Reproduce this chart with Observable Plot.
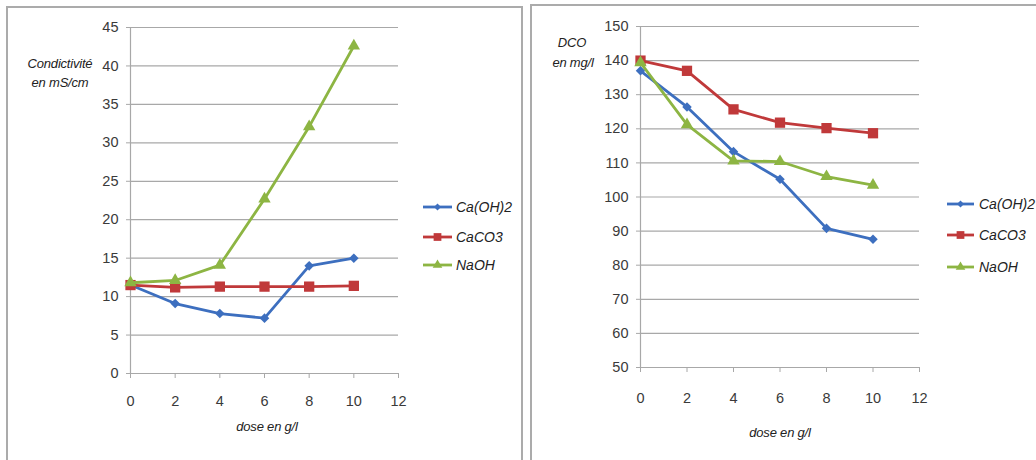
<!DOCTYPE html>
<html><head><meta charset="utf-8">
<script src="https://cdn.jsdelivr.net/npm/d3@7"></script>
<script src="https://cdn.jsdelivr.net/npm/@observablehq/plot@0.6"></script>
<style>
html,body{margin:0;padding:0;background:#fff}
body{width:1036px;height:460px;overflow:hidden;position:relative;font-family:"Liberation Sans",Arial,sans-serif}
.panel{position:absolute;border:2px solid #ababab;box-sizing:border-box}
.abs{position:absolute}
.t{position:absolute;transform:translate(-50%,-50%);font-style:italic;font-size:13px;color:#222;white-space:nowrap;line-height:1;letter-spacing:-0.2px}
.leg{position:absolute;font-style:italic;font-size:14px;color:#222;white-space:nowrap;line-height:1;transform:translateY(-50%)}
</style></head>
<body>
<div class="panel" style="left:6px;top:6px;width:517px;height:480px"></div>
<div class="panel" style="left:530px;top:4px;width:520px;height:480px"></div>
<div id="left" class="abs" style="left:0;top:0"></div>
<div id="right" class="abs" style="left:520px;top:0"></div>
<div class="t" style="left:60px;top:63px">Condictivité</div>
<div class="t" style="left:60px;top:82px">en mS/cm</div>
<div class="t" style="left:572px;top:42px">DCO</div>
<div class="t" style="left:573px;top:62px">en mg/l</div>
<div class="t" style="left:267px;top:426px">dose en g/l</div>
<div class="t" style="left:780px;top:432px">dose en g/l</div>
<div id="legends"></div>
<script>
const doses = [0, 2, 4, 6, 8, 10];
const seriesNames = ["Ca(OH)2", "CaCO3", "NaOH"];
const seriesColors = ["#3d6fbf", "#c0393a", "#8db543"];
const seriesSymbols = ["diamond2", "square", "triangle"];
const xTicks = [0, 2, 4, 6, 8, 10, 12];

const condCaOH2 = [11.5, 9.1, 7.8, 7.2, 14.0, 15.0];
const condCaCO3 = [11.5, 11.2, 11.3, 11.3, 11.3, 11.4];
const condNaOH = [11.8, 12.1, 14.1, 22.7, 32.1, 42.6];
const condTicks = [0, 5, 10, 15, 20, 25, 30, 35, 40, 45];

const dcoCaOH2 = [137, 126.4, 113.3, 105.2, 90.8, 87.6];
const dcoCaCO3 = [140, 137, 125.7, 121.8, 120.2, 118.7];
const dcoNaOH = [139.4, 121.2, 110.6, 110.4, 106, 103.5];
const dcoTicks = [50, 60, 70, 80, 90, 100, 110, 120, 130, 140, 150];

function table(arrs) {
  const rows = [];
  arrs.forEach((vals, i) => vals.forEach((v, j) => rows.push({dose: doses[j], value: v, series: seriesNames[i]})));
  return rows;
}

const symR = {"diamond2": 4.3, "square": 5.8, "triangle": 4.6};

function chart(data, yTicks, opts) {
  const marks = [
    Plot.gridY(yTicks, {stroke: "#a8a8a8", strokeOpacity: 1, strokeWidth: 1.2}),
    Plot.ruleX([0], {stroke: "#a8a8a8", strokeWidth: 1.2}),
    Plot.axisY(yTicks, {tickSize: 4, tickPadding: 8, stroke: "#a8a8a8", fill: "#3a3a3a", label: null}),
    Plot.axisX(xTicks, {tickSize: 5, tickPadding: opts.xPad, stroke: "#a8a8a8", fill: "#3a3a3a", label: null})
  ];
  seriesNames.forEach((s, i) => {
    const d = data.filter(r => r.series === s);
    marks.push(Plot.line(d, {x: "dose", y: "value", stroke: seriesColors[i], strokeWidth: 2.8}));
    marks.push(Plot.dot(d, {x: "dose", y: "value", symbol: seriesSymbols[i], fill: seriesColors[i], r: symR[seriesSymbols[i]]}));
  });
  return Plot.plot({
    width: opts.width, height: 460,
    marginLeft: opts.ml, marginRight: opts.mr, marginTop: opts.mt, marginBottom: opts.mb,
    x: {domain: [0, 12]},
    y: {domain: opts.ydomain},
    style: {fontFamily: "'Liberation Sans Narrow','Liberation Sans',Arial,sans-serif", fontSize: "14.5px", background: "transparent", overflow: "visible"},
    marks
  });
}

document.getElementById("left").append(chart(table([condCaOH2, condCaCO3, condNaOH]), condTicks,
  {width: 520, ml: 130, mr: 122, mt: 27, mb: 87, ydomain: [0, 45], xPad: 17}));
document.getElementById("right").append(chart(table([dcoCaOH2, dcoCaCO3, dcoNaOH]), dcoTicks,
  {width: 516, ml: 120, mr: 117, mt: 26, mb: 93, ydomain: [50, 150], xPad: 20}));

// legends
const legendSpecs = [
  {x: 423, x2: 452, tx: 456, ys: [207, 237, 265]},
  {x: 947, x2: 974, tx: 979, ys: [204, 235, 267]}
];
const legSym = {"diamond2": d3.symbolDiamond2, "square": d3.symbolSquare, "triangle": d3.symbolTriangle};
const legSize = {"diamond2": 32, "square": 60, "triangle": 40};
const host = document.getElementById("legends");
legendSpecs.forEach(spec => {
  seriesNames.forEach((s, i) => {
    const y = spec.ys[i];
    const svg = d3.create("svg").attr("width", spec.x2 - spec.x + 4).attr("height", 14)
      .style("position", "absolute").style("left", (spec.x - 2) + "px").style("top", (y - 7) + "px");
    svg.append("line").attr("x1", 2).attr("x2", spec.x2 - spec.x + 2).attr("y1", 7).attr("y2", 7)
      .attr("stroke", seriesColors[i]).attr("stroke-width", 2.8);
    svg.append("path").attr("d", d3.symbol(legSym[seriesSymbols[i]], legSize[seriesSymbols[i]])())
      .attr("transform", `translate(${(spec.x2 - spec.x) / 2 + 2},7)`).attr("fill", seriesColors[i]);
    host.append(svg.node());
    const t = document.createElement("div");
    t.className = "leg";
    t.style.left = spec.tx + "px";
    t.style.top = y + "px";
    t.textContent = s;
    host.append(t);
  });
});
</script>
</body></html>
